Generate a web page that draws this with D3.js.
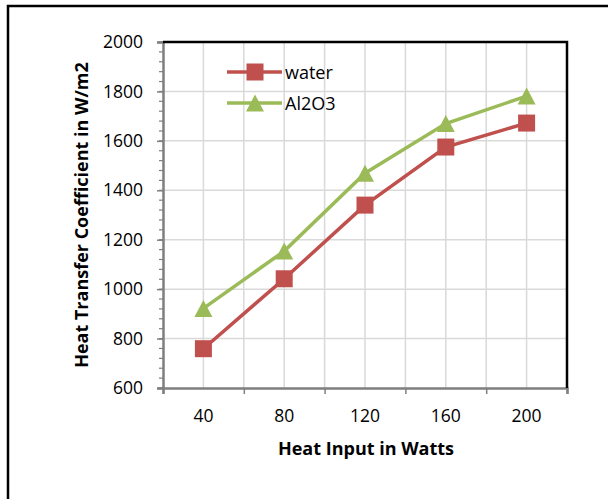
<!DOCTYPE html>
<html>
<head>
<meta charset="utf-8">
<script src="https://cdn.jsdelivr.net/npm/d3@7"></script>
<style>
  body { margin: 0; background: #fff; }
  text { font-family: "Open Sans", "Liberation Sans", sans-serif; }
</style>
</head>
<body>
<div id="chart"></div>
<script>
const heatInput = [40, 80, 120, 160, 200];
const water = [759, 1042, 1340, 1575, 1672];
const al2o3 = [922, 1154, 1469, 1670, 1781];
const yTicks = [600, 800, 1000, 1200, 1400, 1600, 1800, 2000];
const series = [
  { name: "water", values: water, color: "#C0504D", marker: "square" },
  { name: "Al2O3", values: al2o3, color: "#9BBB59", marker: "triangle" },
];

const width = 608, height = 499;
const svg = d3.select("#chart").append("svg")
  .attr("width", width).attr("height", height);

// outer frame
svg.append("path")
  .attr("d", "M8," + height + "V6H" + width)
  .attr("fill", "none").attr("stroke", "#000").attr("stroke-width", 2.5);

const x = d3.scaleLinear().domain([20, 220]).range([163, 567]);
const y = d3.scaleLinear().domain([600, 2000]).range([388, 42]);

// grid
const grid = svg.append("g").attr("stroke", "#d9d9d9").attr("stroke-width", 1.5);
grid.selectAll(".vg").data(d3.range(40, 220, 20)).enter().append("line")
  .attr("x1", d => x(d)).attr("x2", d => x(d))
  .attr("y1", y(600)).attr("y2", y(2000));
grid.selectAll(".hg").data(yTicks.slice(1)).enter().append("line")
  .attr("x1", x(20)).attr("x2", x(220))
  .attr("y1", d => y(d)).attr("y2", d => y(d));

// y axis: minor ticks
svg.append("g").attr("stroke", "#7f7f7f").attr("stroke-width", 1.2)
  .selectAll("line").data(d3.range(600, 2001, 40)).enter().append("line")
  .attr("x1", x(20) - 4).attr("x2", x(20))
  .attr("y1", d => y(d)).attr("y2", d => y(d));

const yAxis = svg.append("g")
  .attr("transform", "translate(" + x(20) + ",0)")
  .call(d3.axisLeft(y).tickValues(yTicks).tickSize(6).tickPadding(14).tickFormat(d3.format("d")));
yAxis.select(".domain").attr("stroke", "#7f7f7f").attr("stroke-width", 2.5);
yAxis.selectAll(".tick line").attr("stroke", "#7f7f7f").attr("stroke-width", 1.5);
yAxis.selectAll("text").attr("font-size", 17.5).attr("fill", "#000");

const xAxis = svg.append("g")
  .attr("transform", "translate(0," + y(600) + ")")
  .call(d3.axisBottom(x).tickValues(d3.range(20, 221, 40)).tickSize(6).tickFormat(""));
xAxis.select(".domain").attr("stroke", "#7f7f7f").attr("stroke-width", 2.5);
xAxis.selectAll(".tick line").attr("stroke", "#7f7f7f").attr("stroke-width", 1.5);

svg.append("g").selectAll("text").data(heatInput).enter().append("text")
  .attr("x", d => x(d)).attr("y", 422)
  .attr("text-anchor", "middle").attr("font-size", 17.5)
  .text(d => d);

// top and right border
svg.append("path")
  .attr("d", "M" + x(20) + "," + y(2000) + "H" + x(220) + "V" + y(600))
  .attr("fill", "none").attr("stroke", "#000").attr("stroke-width", 2.5);

// titles
svg.append("text")
  .attr("x", 366).attr("y", 455)
  .attr("text-anchor", "middle").attr("font-size", 18).attr("font-weight", "bold")
  .text("Heat Input in Watts");
svg.append("text")
  .attr("transform", "translate(88,215) rotate(-90)")
  .attr("text-anchor", "middle").attr("font-size", 18).attr("font-weight", "bold")
  .text("Heat Transfer Coefficient in W/m2");

const line = d3.line().x((d, i) => x(heatInput[i])).y(d => y(d));

function drawMarker(g, s, cx, cy) {
  if (s.marker === "square") {
    g.append("rect").attr("x", cx - 8.5).attr("y", cy - 8.5)
      .attr("width", 17).attr("height", 17).attr("fill", s.color);
  } else {
    g.append("path")
      .attr("d", "M" + cx + "," + (cy - 8.5) + "L" + (cx + 9) + "," + (cy + 8.5) + "L" + (cx - 9) + "," + (cy + 8.5) + "Z")
      .attr("fill", s.color);
  }
}

series.forEach(s => {
  const g = svg.append("g");
  g.append("path").datum(s.values).attr("d", line)
    .attr("fill", "none").attr("stroke", s.color).attr("stroke-width", 3.5);
  s.values.forEach((v, i) => drawMarker(g, s, x(heatInput[i]), y(v)));
});

// legend
series.forEach((s, i) => {
  const ly = 72 + i * 31;
  const g = svg.append("g");
  g.append("line").attr("x1", 227).attr("x2", 282).attr("y1", ly).attr("y2", ly)
    .attr("stroke", s.color).attr("stroke-width", 3.5);
  drawMarker(g, s, 255, ly);
  g.append("text").attr("x", 285).attr("y", ly + 6.5)
    .attr("font-size", 18).text(s.name);
});
</script>
</body>
</html>
